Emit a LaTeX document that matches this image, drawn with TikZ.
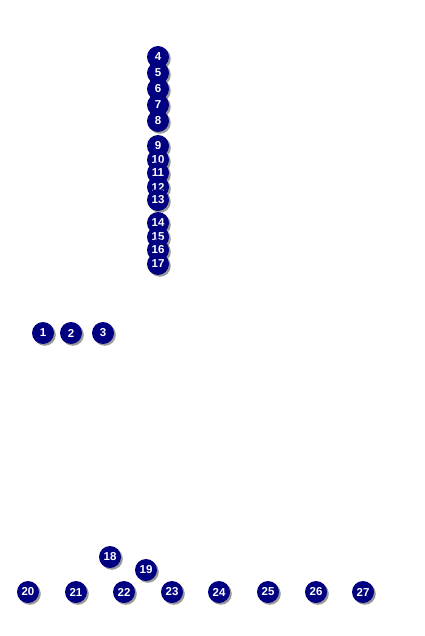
\documentclass[tikz,border=0pt]{standalone}
\usepackage{fontspec}
\setmainfont{Liberation Sans}
\usetikzlibrary{shadows}
\definecolor{ballnavy}{RGB}{0,0,128}
\tikzset{
  ball/.style={circle, fill=ballnavy, minimum size=22pt, inner sep=0pt,
    text=white, font=\fontsize{11.5}{12}\selectfont\bfseries,
    drop shadow={shadow xshift=1.8pt, shadow yshift=-1.8pt, fill=black!50, opacity=0.8}}
}
\begin{document}
\begin{tikzpicture}[x=1pt,y=-1pt]
  \useasboundingbox (0,0) rectangle (424,636);
  {

  % Marking balls 1 to 3
  \node [ball] (b1) at (43,333) {1};%
  \node [ball] (b2) at (71,333) {2};%
  \node [ball] (b3) at (103,333) {3};%

  % Marking column 4 to 8
  \node [ball] (b4) at (158,57) {4};%
  \node [ball] (b5) at (158,73) {5};%
  \node [ball] (b6) at (158,89) {6};%
  \node [ball] (b7) at (158,105) {7};%
  \node [ball] (b8) at (158,121) {8};%

  % Marking column 9 to 13
  \node [ball] (b9) at (158,146) {9};%
  \node [ball] (b10) at (158,160) {10};%
  \node [ball] (b11) at (158,173) {11};%
  \node [ball] (b12) at (158,187) {12};%
  \node [ball] (b13) at (158,200) {13};%

  % Marking column 14 to 17
  \node [ball] (b14) at (158,223) {14};%
  \node [ball] (b15) at (158,237) {15};%
  \node [ball] (b16) at (158,250) {16};%
  \node [ball] (b17) at (158,264) {17};%

  % Marking balls 18 and 19
  \node [ball] (b18) at (110,557) {18};%
  \node [ball] (b19) at (146,570) {19};%

  % Marking bottom row 20 to 27
  \node [ball] (b20) at (28,592) {20};%
  \node [ball] (b21) at (76,592) {21};%
  \node [ball] (b22) at (124,592) {22};%
  \node [ball] (b23) at (172,592) {23};%
  \node [ball] (b24) at (219,592) {24};%
  \node [ball] (b25) at (268,592) {25};%
  \node [ball] (b26) at (316,592) {26};%
  \node [ball] (b27) at (363,592) {27};%
  }
\end{tikzpicture}
\end{document}
